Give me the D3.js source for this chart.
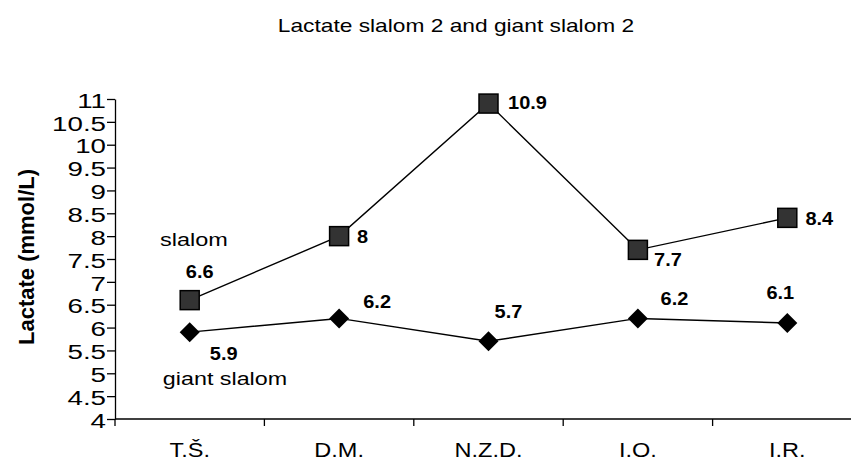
<!DOCTYPE html>
<html>
<head>
<meta charset="utf-8">
<script src="https://cdn.jsdelivr.net/npm/d3@7"></script>
<style>
  html, body { margin: 0; padding: 0; background: #fff; }
  text { font-family: "Liberation Sans", Arial, sans-serif; fill: #000; }
</style>
</head>
<body>
<svg id="chart" width="851" height="462"></svg>
<script>
const categories = ["T.Š.", "D.M.", "N.Z.D.", "I.O.", "I.R."];
const slalom = [6.6, 8, 10.9, 7.7, 8.4];
const giantSlalom = [5.9, 6.2, 5.7, 6.2, 6.1];
const yTicks = [4, 4.5, 5, 5.5, 6, 6.5, 7, 7.5, 8, 8.5, 9, 9.5, 10, 10.5, 11];
const titleText = "Lactate slalom 2 and giant slalom 2";
const yTitleText = "Lactate (mmol/L)";
const seriesNames = ["slalom", "giant slalom"];

// label placement offsets (layout, relative to each point)
const slalomLabelOffsets = [[10, -22], [23.5, 7], [39, 5.5], [30, 16], [32, 7]];
const giantLabelOffsets = [[34, 28], [38, -10], [20, -23], [36.5, -13], [-7, -24]];

const svg = d3.select("#chart");
const mLeft = 115, mBottom = 419, mTop = 99;
const bandW = 149.4;

const x = d3.scaleBand().domain(categories).range([mLeft, mLeft + bandW * categories.length]).padding(0);
const y = d3.scaleLinear().domain([4, 11]).range([mBottom, mTop]);
const cx = c => x(c) + x.bandwidth() / 2;

function stretchedText(parent, tx, ty, str, opts) {
  const g = parent.append("g").attr("transform", `translate(${tx},${ty}) scale(${opts.sx || 1},1)`);
  const t = g.append("text")
    .attr("text-anchor", opts.anchor || "middle")
    .attr("font-size", opts.size)
    .attr("font-weight", opts.weight || "normal")
    .text(str);
  if (opts.baseline) t.attr("dominant-baseline", opts.baseline);
  return t;
}

// Title
stretchedText(svg, 456, 32, titleText, { size: 17.5, sx: 1.3 });

// Y axis
const yAxis = d3.axisLeft(y).tickValues(yTicks).tickSize(8).tickSizeOuter(0).tickFormat(d3.format("~g"));
const yg = svg.append("g").attr("transform", `translate(${mLeft},0)`).call(yAxis);
yg.select(".domain").attr("stroke", "#000").attr("stroke-width", 1.3);
yg.selectAll(".tick line").attr("stroke", "#000").attr("stroke-width", 1.3);
yg.selectAll(".tick text")
  .attr("x", null).attr("dy", null)
  .attr("font-family", "Liberation Sans, Arial, sans-serif")
  .attr("font-size", 21)
  .attr("fill", "#000")
  .attr("text-anchor", "end")
  .attr("dominant-baseline", "central")
  .attr("transform", "translate(-9,1) scale(1.32,1)");

// X axis
const xg = svg.append("g");
xg.append("line")
  .attr("x1", mLeft).attr("x2", 851)
  .attr("y1", mBottom).attr("y2", mBottom)
  .attr("stroke", "#000").attr("stroke-width", 1.3);
const boundaries = categories.map(c => x(c)).concat([x.range()[1]]);
xg.selectAll("line.xt").data(boundaries).join("line")
  .attr("class", "xt")
  .attr("x1", d => d).attr("x2", d => d)
  .attr("y1", mBottom).attr("y2", mBottom + 7)
  .attr("stroke", "#000").attr("stroke-width", 1.3);
categories.forEach(c => stretchedText(xg, cx(c), 457, c, { size: 21, sx: 1.12 }));

// Y title
svg.append("text")
  .attr("transform", `translate(26,257) rotate(-90)`)
  .attr("text-anchor", "middle")
  .attr("dominant-baseline", "central")
  .attr("font-size", 22)
  .attr("font-weight", "bold")
  .text(yTitleText);

// Lines
const line = d3.line().x((d, i) => cx(categories[i])).y(d => y(d));
svg.append("path").datum(slalom).attr("d", line)
  .attr("fill", "none").attr("stroke", "#000").attr("stroke-width", 1.4);
svg.append("path").datum(giantSlalom).attr("d", line)
  .attr("fill", "none").attr("stroke", "#000").attr("stroke-width", 1.4);

// Markers: squares
const sq = 19;
svg.selectAll("rect.sq").data(slalom).join("rect")
  .attr("class", "sq")
  .attr("x", (d, i) => cx(categories[i]) - sq / 2)
  .attr("y", d => y(d) - sq / 2)
  .attr("width", sq).attr("height", sq)
  .attr("fill", "#333").attr("stroke", "#000").attr("stroke-width", 1.5);

// Markers: diamonds
const dm = 10;
svg.selectAll("path.dia").data(giantSlalom).join("path")
  .attr("class", "dia")
  .attr("d", (d, i) => {
    const px = cx(categories[i]), py = y(d);
    return `M${px},${py - dm}L${px + dm},${py}L${px},${py + dm}L${px - dm},${py}Z`;
  })
  .attr("fill", "#000");

// Data labels
slalom.forEach((v, i) => {
  const o = slalomLabelOffsets[i];
  stretchedText(svg, cx(categories[i]) + o[0], y(v) + o[1], d3.format("~g")(v), { size: 18.5, sx: 1.08, weight: "bold" });
});
giantSlalom.forEach((v, i) => {
  const o = giantLabelOffsets[i];
  stretchedText(svg, cx(categories[i]) + o[0], y(v) + o[1], d3.format("~g")(v), { size: 18.5, sx: 1.08, weight: "bold" });
});

// Series labels
stretchedText(svg, 194, 246, seriesNames[0], { size: 18.5, sx: 1.27 });
stretchedText(svg, 225, 385, seriesNames[1], { size: 18.5, sx: 1.26 });
</script>
</body>
</html>
